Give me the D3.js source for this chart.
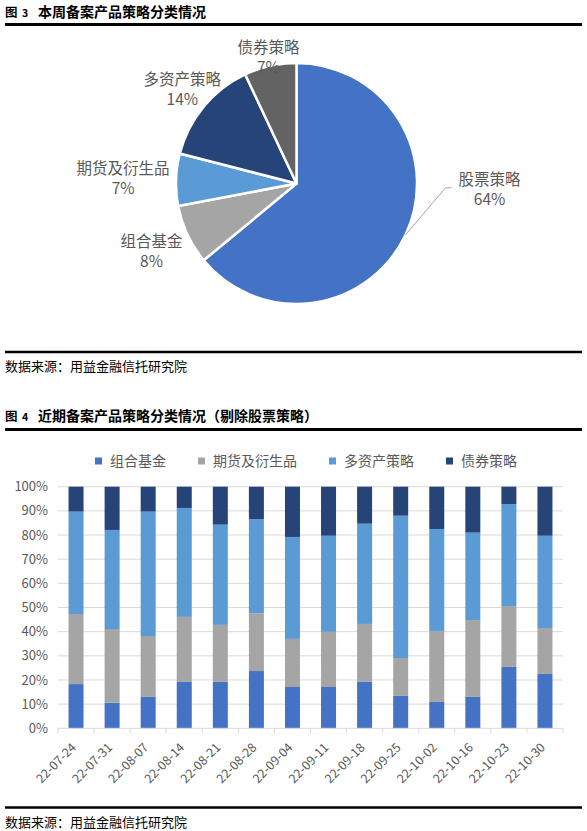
<!DOCTYPE html>
<html><head><meta charset="utf-8">
<script src="https://cdn.jsdelivr.net/npm/d3@7"></script>
<style>body{margin:0;background:#fff} svg{display:block}</style>
</head><body><svg id="c" width="587" height="831"></svg>
<script>
// ---------- data ----------
const pieCategories = ["股票策略","组合基金","期货及衍生品","多资产策略","债券策略"];
const pieValues = [64, 8, 7, 14, 7];
const pieColors = ["#4472C4","#A5A5A5","#5B9BD5","#264478","#636363"];

const dates = ["22-07-24","22-07-31","22-08-07","22-08-14","22-08-21","22-08-28","22-09-04",
               "22-09-11","22-09-18","22-09-25","22-10-02","22-10-16","22-10-23","22-10-30"];
const seriesNames = ["组合基金","期货及衍生品","多资产策略","债券策略"];
const fofValues      = [18.3,10.6,13.0,19.2,19.2,23.7,17.1,17.1,19.2,13.4,10.9,13.0,25.4,22.5];
const futuresValues  = [29.0,30.5,25.2,26.9,23.6,23.9,19.9,22.8,24.0,15.7,29.4,31.8,25.2,19.0];
const multiValues    = [42.4,41.0,51.5,45.1,41.5,39.0,42.2,39.8,41.5,58.9,42.2,36.2,42.2,38.2];
const bondValues     = [10.3,17.9,10.3, 8.8,15.7,13.4,20.8,20.3,15.3,12.0,17.5,19.0, 7.2,20.3];
const barColors = ["#4472C4","#A5A5A5","#5B9BD5","#264478"];
const yTicks = [0,10,20,30,40,50,60,70,80,90,100];

const title3 = ["3", "本周备案产品策略分类情况"];
const title4 = ["4", "近期备案产品策略分类情况（剔除股票策略）"];
const sourceText = "数据来源：用益金融信托研究院";

// ---------- drawing ----------
const svg = d3.select("#c");
const FONT = "'Noto Sans CJK SC','Microsoft YaHei',sans-serif";
const TXT = "#595959";

function header(parts, y, lineY){
  const g = svg.append("g").attr("font-family",FONT).attr("font-weight",700).attr("fill","#000");
  g.append("text").attr("x",5).attr("y",y).attr("font-size",12.5).text("图");
  g.append("text").attr("x",22).attr("y",y).attr("font-size",10.5).text(parts[0]);
  g.append("text").attr("x",38).attr("y",y).attr("font-size",14).text(parts[1]);
  svg.append("line").attr("x1",5).attr("x2",582).attr("y1",lineY).attr("y2",lineY)
    .attr("stroke","#000").attr("stroke-width",2.8);
}
function source(lineY, y){
  svg.append("line").attr("x1",5).attr("x2",582).attr("y1",lineY).attr("y2",lineY)
    .attr("stroke","#000").attr("stroke-width",2.5);
  svg.append("text").attr("x",5).attr("y",y).attr("font-family",FONT)
    .attr("font-size",13).attr("fill","#000").text(sourceText);
}

header(title3, 16.5, 24.5);
source(352, 371);
header(title4, 420.5, 429.5);
source(807.5, 827);

// ---------- pie ----------
const cx = 296.5, cy = 183.5, R = 120.5;
const pieData = pieCategories.map((c,i)=>({name:c, value:pieValues[i], color:pieColors[i]}));
const pie = d3.pie().value(d=>d.value).sort(null);
const arcs = pie(pieData);
const arc = d3.arc().innerRadius(0).outerRadius(R);
const gPie = svg.append("g").attr("transform",`translate(${cx},${cy})`);
gPie.selectAll("path").data(arcs).join("path")
  .attr("d",arc).attr("fill",d=>d.data.color).attr("stroke","#fff").attr("stroke-width",2.5)
  .attr("stroke-linejoin","round");

// label radius factors (layout only)
const labelK = [null, 1.33, 1.44, 1.23, 1.07];
const polar = (a, r) => [r*Math.sin(a), -r*Math.cos(a)];
arcs.forEach((d,i)=>{
  const mid = (d.startAngle+d.endAngle)/2;
  let px, py;
  if(i===0){
    const s = polar(mid, R);
    const e = [s[0]+40, s[1]-47];
    gPie.append("polyline").attr("points",[s,e,[e[0]+6,e[1]]].map(p=>p.join(",")).join(" "))
      .attr("fill","none").attr("stroke","#A6A6A6").attr("stroke-width",1);
    px = e[0]+44; py = e[1]+2;
  } else {
    [px,py] = polar(mid, R*labelK[i]);
  }
  const t = gPie.append("text").attr("text-anchor","middle").attr("font-family",FONT)
    .attr("font-size",15.5).attr("fill",TXT);
  t.append("tspan").attr("x",px).attr("y",py-4.5).text(d.data.name);
  t.append("tspan").attr("x",px).attr("y",py+15.5).text(Math.round(d.data.value/d3.sum(pieValues)*100)+"%");
});

// ---------- stacked bars ----------
const rows = dates.map((d,i)=>({date:d, "组合基金":fofValues[i], "期货及衍生品":futuresValues[i],
  "多资产策略":multiValues[i], "债券策略":bondValues[i]}));
const stack = d3.stack().keys(seriesNames)(rows);
const x = d3.scaleBand().domain(dates).range([58,563]).padding(0);
const y = d3.scaleLinear().domain([0,100]).range([728.3,486.7]);
const bw = 15;

// gridlines
svg.append("g").selectAll("line").data(yTicks.slice(1)).join("line")
  .attr("x1",58).attr("x2",563).attr("y1",d=>y(d)).attr("y2",d=>y(d))
  .attr("stroke","#D9D9D9").attr("stroke-width",1);
// y labels
svg.append("g").selectAll("text").data(yTicks).join("text")
  .attr("x",48).attr("y",d=>y(d)).attr("dy","0.35em").attr("text-anchor","end")
  .attr("font-family",FONT).attr("font-size",13).attr("fill",TXT).text(d=>d+"%");

svg.append("g").selectAll("g").data(stack).join("g")
  .attr("fill",(d,i)=>barColors[i])
  .selectAll("rect").data(d=>d).join("rect")
  .attr("x",d=>x(d.data.date)+(x.bandwidth()-bw)/2)
  .attr("width",bw)
  .attr("y",d=>y(d[1]))
  .attr("height",d=>y(d[0])-y(d[1]));

// x axis line & ticks
svg.append("line").attr("x1",58).attr("x2",563).attr("y1",y(0)).attr("y2",y(0))
  .attr("stroke","#D9D9D9").attr("stroke-width",1);
svg.append("g").selectAll("line").data(d3.range(dates.length+1)).join("line")
  .attr("x1",i=>58+i*x.step()).attr("x2",i=>58+i*x.step())
  .attr("y1",y(0)).attr("y2",y(0)+5).attr("stroke","#D9D9D9");
// x labels
svg.append("g").selectAll("text").data(dates).join("text")
  .attr("transform",d=>`translate(${x(d)+x.bandwidth()/2+1},${y(0)+20}) rotate(-45)`)
  .attr("text-anchor","end").attr("font-family",FONT).attr("font-size",12.5).attr("fill",TXT)
  .text(d=>d);

// legend
const lg = svg.append("g");
let lx = 95; const ly = 461;
seriesNames.forEach((n,i)=>{
  lg.append("rect").attr("x",lx).attr("y",ly-3.5).attr("width",7).attr("height",7).attr("fill",barColors[i]);
  const t = lg.append("text").attr("x",lx+15).attr("y",ly).attr("dy","0.35em")
    .attr("font-family",FONT).attr("font-size",14).attr("fill",TXT).text(n);
  lx += 15 + t.node().getComputedTextLength() + 32;
});
</script></body></html>
